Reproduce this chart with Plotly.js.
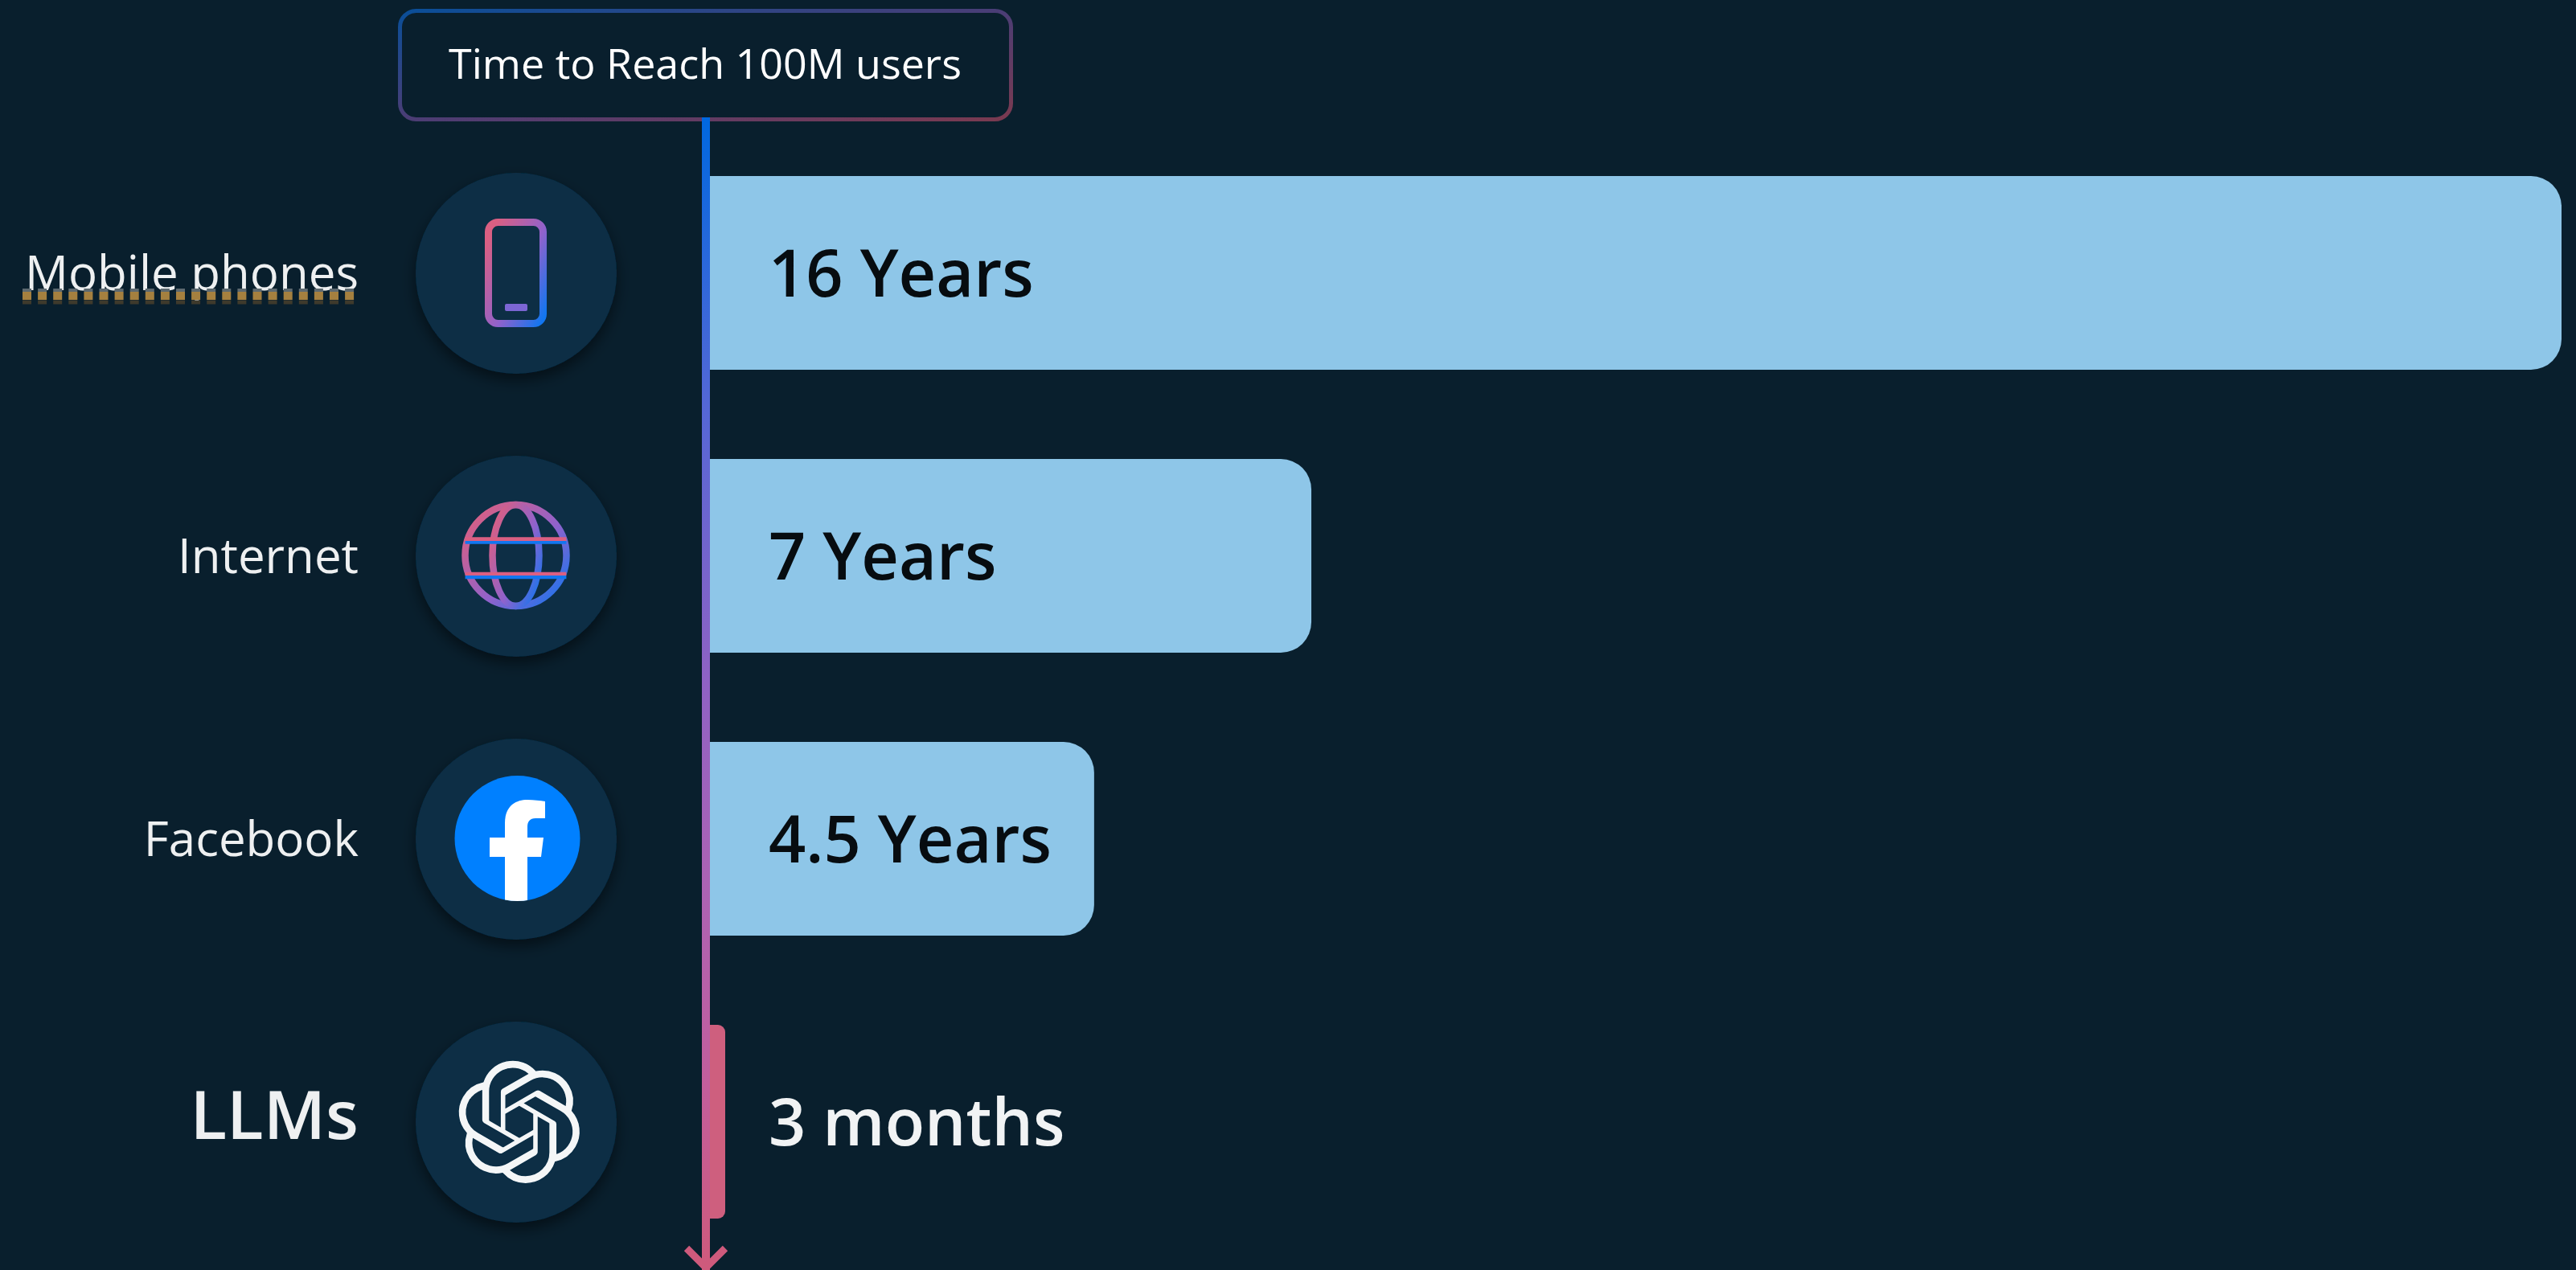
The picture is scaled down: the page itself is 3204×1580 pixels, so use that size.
<!DOCTYPE html>
<html>
<head>
<meta charset="utf-8">
<script src="https://cdn.plot.ly/plotly-3.0.1.min.js"></script>
<style>html,body{margin:0;padding:0;background:#091F2D;overflow:hidden}</style>
</head>
<body>
<div id="chart" style="width:3204px;height:1580px"></div>
<script>
const categories = ["Mobile phones", "Internet", "Facebook", "LLMs"];
const barLengths = [16, 5.197, 3.32, 0.132];
const durationLabels = ["16 Years", "7 Years", "4.5 Years", "3 months"];
const chartTitle = "Time to Reach 100M users";
const barColors = ["#8EC6E8", "#8EC6E8", "#8EC6E8", "#CE5F7E"];
const durationColors = ["#070C10", "#070C10", "#070C10", "#F1F3F4"];

const W = 3204, H = 1580;
const FONT = '"Open Sans", "Noto Sans", sans-serif';

function deco(x, y, w, h, inner) {
  const svg = `<svg xmlns="http://www.w3.org/2000/svg" width="${w}" height="${h}" viewBox="${x} ${y} ${w} ${h}">${inner}</svg>`;
  return {
    source: "data:image/svg+xml;charset=utf-8," + encodeURIComponent(svg),
    xref: "paper", yref: "paper", x: x / W, y: 1 - y / H,
    sizex: w / W, sizey: h / H, sizing: "stretch",
    xanchor: "left", yanchor: "top", layer: "above"
  };
}
const iconGrad = `<linearGradient id="g" x1="0.05" y1="0.1" x2="1" y2="0.95"><stop offset="0" stop-color="#DA5F82"/><stop offset="0.55" stop-color="#9062CC"/><stop offset="1" stop-color="#1276F0"/></linearGradient>`;
const shadow = `<filter id="s" x="-30%" y="-30%" width="160%" height="170%"><feDropShadow dx="0" dy="8" stdDeviation="9" flood-color="#000" flood-opacity="0.5"/></filter>`;
function disc(cx, cy, defs, body) {
  return deco(cx - 170, cy - 170, 340, 350,
    `<defs>${shadow}${defs}</defs><circle cx="${cx}" cy="${cy}" r="125" fill="#092D45" filter="url(#s)"/>${body}`);
}
const openAiPath = "M22.2819 9.8211a5.9847 5.9847 0 0 0-.5157-4.9108 6.0462 6.0462 0 0 0-6.5098-2.9A6.0651 6.0651 0 0 0 4.9807 4.1818a5.9847 5.9847 0 0 0-3.9977 2.9 6.0462 6.0462 0 0 0 .7427 7.0966 5.98 5.98 0 0 0 .511 4.9107 6.051 6.051 0 0 0 6.5146 2.9001A5.9847 5.9847 0 0 0 13.2599 24a6.0557 6.0557 0 0 0 5.7718-4.2058 5.9894 5.9894 0 0 0 3.9977-2.9001 6.0557 6.0557 0 0 0-.7475-7.0729zm-9.022 12.6081a4.4755 4.4755 0 0 1-2.8764-1.0408l.1419-.0804 4.7783-2.7582a.7948.7948 0 0 0 .3927-.6813v-6.7369l2.02 1.1686a.071.071 0 0 1 .038.052v5.5826a4.504 4.504 0 0 1-4.4945 4.4944zm-9.6607-4.1254a4.4708 4.4708 0 0 1-.5346-3.0137l.142.0852 4.783 2.7582a.7712.7712 0 0 0 .7806 0l5.8428-3.3685v2.3324a.0804.0804 0 0 1-.0332.0615L9.74 19.9502a4.4992 4.4992 0 0 1-6.1408-1.6464zM2.3408 7.8956a4.485 4.485 0 0 1 2.3655-1.9728V11.6a.7664.7664 0 0 0 .3879.6765l5.8144 3.3543-2.0201 1.1685a.0757.0757 0 0 1-.071 0l-4.8303-2.7865A4.504 4.504 0 0 1 2.3408 7.872zm16.5963 3.8558L13.1038 8.364 15.1192 7.2a.0757.0757 0 0 1 .071 0l4.8303 2.7913a4.4944 4.4944 0 0 1-.6765 8.1042v-5.6772a.79.79 0 0 0-.407-.667zm2.0107-3.0231l-.142-.0852-4.7735-2.7818a.7759.7759 0 0 0-.7854 0L9.409 9.2297V6.8974a.0662.0662 0 0 1 .0284-.0615l4.8303-2.7866a4.4992 4.4992 0 0 1 6.6802 4.66zM8.3065 12.863l-2.02-1.1638a.0804.0804 0 0 1-.038-.0567V6.0742a4.4992 4.4992 0 0 1 7.3757-3.4537l-.142.0805L8.704 5.459a.7948.7948 0 0 0-.3927.6813zm1.0976-2.3654l2.602-1.4998 2.6069 1.4998v2.9994l-2.5974 1.4997-2.6067-1.4997Z";

const images = [
  deco(485, 0, 785, 165,
    `<defs><linearGradient id="b" x1="0" y1="0" x2="1" y2="1"><stop offset="0" stop-color="#0A4E98"/><stop offset="0.5" stop-color="#4B3D75"/><stop offset="1" stop-color="#7A3A50"/></linearGradient></defs>
     <rect x="497.5" y="13.5" width="760" height="135" rx="20" fill="none" stroke="url(#b)" stroke-width="5"/>`),
  deco(840, 146, 80, 1434,
    `<defs><linearGradient id="l" gradientUnits="userSpaceOnUse" x1="0" y1="146" x2="0" y2="1580">
       <stop offset="0" stop-color="#0068E0"/><stop offset="0.25" stop-color="#5467D6"/><stop offset="0.49" stop-color="#8F62C4"/>
       <stop offset="0.665" stop-color="#AC63B4"/><stop offset="0.84" stop-color="#C25E9C"/><stop offset="1" stop-color="#CE5A7C"/></linearGradient></defs>
     <rect x="873" y="146" width="10" height="1434" fill="url(#l)"/>
     <polyline points="854,1553 878,1577 902,1553" fill="none" stroke="#CE5A7C" stroke-width="9"/>`),
  deco(20, 355, 440, 30,
    `<line x1="28" y1="368" x2="447" y2="368" stroke="#A5803F" stroke-width="10" stroke-dasharray="11 8.1"/>
     <line x1="28" y1="376" x2="447" y2="376" stroke="#3E3A2C" stroke-width="5" stroke-dasharray="11 8.1"/>
     <line x1="28" y1="361" x2="447" y2="361" stroke="#5E6A70" stroke-width="4" stroke-dasharray="11 8.1"/>`),
  disc(642, 340, iconGrad,
    `<rect x="607.5" y="276.5" width="68" height="126" rx="12" fill="none" stroke="url(#g)" stroke-width="9"/>
     <rect x="628" y="378" width="28" height="9" rx="2" fill="#7C66D4"/>`),
  disc(642, 692, iconGrad,
    `<g fill="none" stroke="url(#g)" stroke-width="8.5">
       <circle cx="641.5" cy="691" r="63"/>
       <ellipse cx="641.5" cy="691" rx="29" ry="63"/>
       <path d="M578.6 672.6 C600 672.59 680 672.61 704.4 672.6"/>
       <path d="M578.6 716 C600 715.99 680 716.01 704.4 716"/>
     </g>`),
  disc(642, 1044,
    `<clipPath id="c"><circle cx="643.5" cy="1043" r="78"/></clipPath>`,
    `<circle cx="643.5" cy="1043" r="78" fill="#0080FF"/>
     <path clip-path="url(#c)" fill="#FFFFFF" d="M628 1125 V1066 H609 V1042 H628 V1024 C628 1004 640 995 656 995 C664 995 672 996 678 997 V1018 H666 C659 1018 656 1022 656 1029 V1042 H676 L673 1066 H656 V1125 Z"/>`),
  disc(642, 1396, "",
    `<path fill="#F4F6F7" stroke="#092D45" stroke-width="0.22" transform="translate(569 1319) scale(6.4)" d="${openAiPath}"/>`)
];

// Long bars and the short LLM bar have different corner radii in the reference.
const bars = {
  type: "bar", orientation: "h",
  y: categories.slice(0, 3), x: barLengths.slice(0, 3),
  marker: { color: barColors.slice(0, 3), line: { width: 0 }, cornerradius: 38 },
  hoverinfo: "skip", showlegend: false
};
const shortBar = {
  type: "bar", orientation: "h",
  y: categories.slice(3), x: barLengths.slice(3),
  marker: { color: barColors.slice(3), line: { width: 0 }, cornerradius: 9 },
  hoverinfo: "skip", showlegend: false
};
const durationAnnotations = categories.map((c, i) => ({
  xref: "x", yref: "y", x: 0.49, y: c,
  xanchor: "left", yanchor: "middle", yshift: 2, showarrow: false,
  text: durationLabels[i], align: "left",
  font: { family: FONT, size: 81, color: durationColors[i], weight: 600 }
}));
const tickText = categories.map((c, i) =>
  i === 3 ? `<span style="font-size:84px;font-weight:600">${c}</span>` : c);

const layout = {
  width: W, height: H,
  paper_bgcolor: "#091F2D", plot_bgcolor: "rgba(0,0,0,0)",
  margin: { l: 0, r: 0, t: 0, b: 0, pad: 0 },
  barmode: "overlay", bargap: 0.3153,
  showlegend: false,
  font: { family: FONT, color: "#F1F3F4" },
  title: {
    text: chartTitle, xref: "paper", yref: "paper",
    x: 877 / W, xanchor: "center", y: 1 - 80 / H, yanchor: "middle",
    font: { family: FONT, size: 52, color: "#FFFFFF", weight: 500 }
  },
  xaxis: {
    domain: [883 / W, 3186 / W], range: [0, 16], visible: false, fixedrange: true
  },
  yaxis: {
    domain: [8.5 / H, 1 - 163.5 / H], range: [3.5, -0.5], type: "category",
    categoryorder: "array", categoryarray: categories,
    tickmode: "array", tickvals: categories, ticktext: tickText,
    ticks: "", showline: false, showgrid: false, zeroline: false,
    ticklabelstandoff: 436, tickfont: { family: FONT, size: 60, color: "#EEF0F1" },
    fixedrange: true
  },
  annotations: durationAnnotations,
  images: images
};
Plotly.newPlot("chart", [bars, shortBar], layout, { displayModeBar: false, responsive: false, staticPlot: true });
</script>
</body>
</html>
